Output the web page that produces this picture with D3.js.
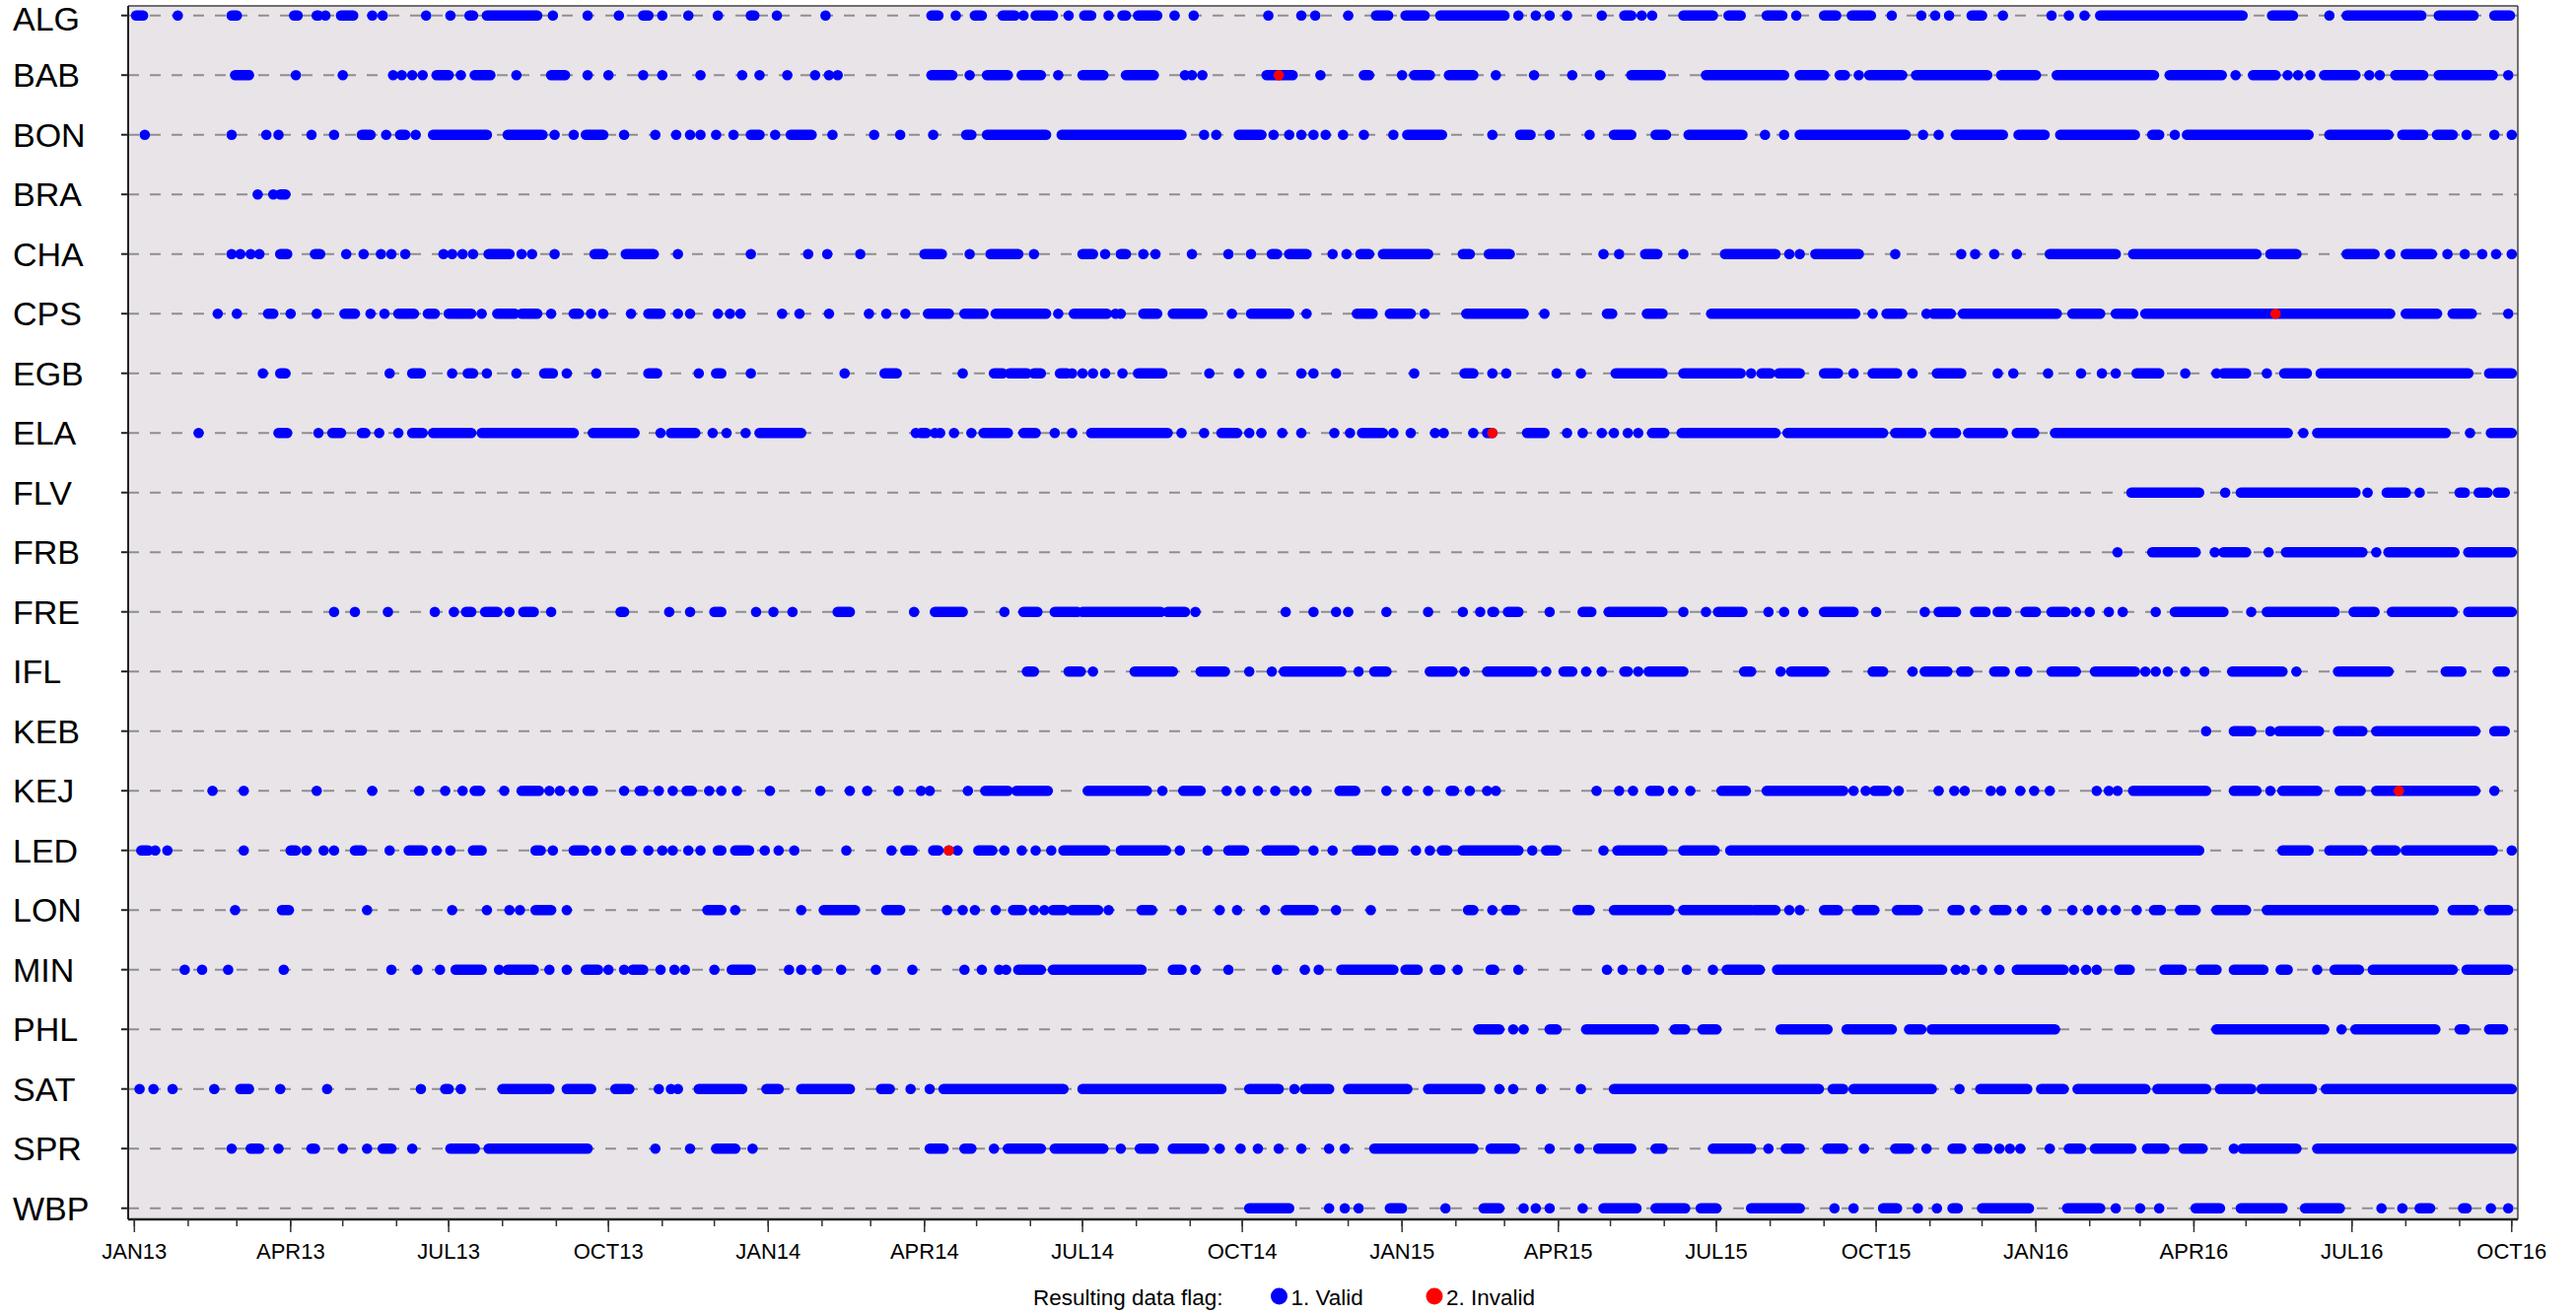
<!DOCTYPE html>
<html><head><meta charset="utf-8">
<script src="https://cdn.jsdelivr.net/npm/d3@7"></script>
<style>
body{margin:0;background:#fff}
svg{display:block}
text{font-family:"Liberation Sans",Arial,Helvetica,sans-serif}
</style>
</head><body>
<svg id="chart" width="2613" height="1333"></svg>
<script>
// Categories (stations, top to bottom)
const stations = ["ALG","BAB","BON","BRA","CHA","CPS","EGB","ELA","FLV","FRB","FRE","IFL","KEB","KEJ","LED","LON","MIN","PHL","SAT","SPR","WBP"];
// Quarterly tick labels
const tickLabels = ["JAN13","APR13","JUL13","OCT13","JAN14","APR14","JUL14","OCT14","JAN15","APR15","JUL15","OCT15","JAN16","APR16","JUL16","OCT16"];
const legendTitle = "Resulting data flag:";
const legendLabels = ["1. Valid","2. Invalid"];

// Valid data: runs of consecutive days [firstDay, lastDay], days counted from 1 Jan 2013
const ALG = [[1,5],[25,25],[56,59],[92,94],[105,106],[110,110],[119,126],[137,137],[143,143],[168,168],[182,182],[193,195],[203,232],[241,241],[261,261],[279,279],[293,296],[304,304],[319,319],[336,336],[355,357],[370,370],[398,398],[459,463],[473,473],[484,488],[500,507],[512,512],[519,529],[538,538],[547,551],[561,561],[569,571],[578,589],[599,599],[610,610],[653,653],[672,672],[680,680],[699,699],[715,722],[732,743],[752,789],[797,797],[807,807],[815,815],[825,825],[845,845],[858,862],[868,868],[874,874],[892,909],[918,925],[940,949],[957,957],[973,980],[989,1000],[1012,1012],[1029,1029],[1037,1037],[1045,1045],[1058,1064],[1076,1076],[1104,1104],[1114,1114],[1123,1123],[1132,1214],[1231,1243],[1264,1264],[1274,1317],[1327,1347],[1359,1368]];
const BAB = [[58,66],[93,93],[120,120],[149,149],[154,154],[160,160],[166,166],[174,181],[188,188],[196,205],[220,220],[240,248],[261,261],[273,273],[293,293],[304,304],[326,326],[350,350],[360,360],[376,376],[392,392],[400,400],[405,405],[459,471],[481,481],[491,503],[511,522],[532,532],[546,558],[571,587],[605,605],[609,609],[615,615],[652,667],[683,683],[708,711],[730,730],[737,746],[757,771],[784,784],[806,806],[828,828],[844,844],[862,879],[905,950],[959,973],[982,985],[993,993],[999,1018],[1026,1067],[1075,1095],[1107,1163],[1172,1202],[1210,1210],[1220,1233],[1240,1240],[1246,1246],[1253,1253],[1261,1279],[1287,1287],[1293,1293],[1302,1318],[1327,1358],[1367,1367]];
const BON = [[6,6],[56,56],[76,76],[83,83],[102,102],[115,115],[131,136],[145,145],[153,156],[162,162],[172,203],[215,235],[242,242],[253,253],[260,270],[282,282],[300,300],[312,312],[320,320],[326,326],[335,335],[345,345],[355,360],[369,369],[378,390],[402,402],[426,426],[441,441],[460,460],[479,482],[491,525],[534,603],[616,616],[623,623],[636,649],[656,656],[665,665],[672,672],[679,679],[686,686],[696,696],[708,708],[725,725],[733,753],[782,782],[798,804],[815,815],[838,838],[852,862],[876,882],[895,926],[939,939],[950,950],[959,1020],[1030,1030],[1039,1039],[1049,1076],[1085,1100],[1109,1152],[1162,1166],[1175,1175],[1182,1252],[1264,1298],[1306,1318],[1326,1335],[1343,1343],[1359,1359],[1369,1369]];
const BRA = [[71,71],[80,80],[84,87]];
const CHA = [[56,56],[61,61],[67,67],[72,72],[84,88],[104,107],[122,122],[132,132],[142,142],[148,148],[156,156],[178,178],[183,183],[189,189],[195,195],[204,216],[223,223],[229,229],[242,242],[265,270],[283,299],[313,313],[355,355],[388,388],[399,399],[418,418],[455,465],[481,481],[493,509],[518,518],[546,552],[559,559],[568,571],[581,581],[588,588],[609,609],[630,630],[643,643],[655,658],[665,675],[690,690],[698,698],[706,711],[719,745],[765,769],[780,792],[846,846],[855,855],[870,877],[892,892],[916,945],[953,953],[959,959],[968,993],[1014,1014],[1052,1052],[1060,1060],[1071,1071],[1084,1084],[1103,1141],[1151,1222],[1230,1245],[1274,1290],[1299,1299],[1308,1323],[1332,1332],[1342,1342],[1352,1352],[1360,1360],[1369,1369]];
const CPS = [[48,48],[59,59],[77,80],[90,90],[105,105],[121,127],[136,136],[144,144],[152,161],[169,173],[181,194],[200,200],[209,219],[223,232],[240,240],[253,256],[263,263],[270,270],[286,286],[296,303],[313,313],[320,320],[336,336],[343,343],[349,349],[373,373],[383,383],[400,400],[423,423],[433,433],[444,444],[457,469],[478,489],[496,525],[532,532],[541,560],[565,565],[568,568],[581,589],[598,615],[632,632],[643,665],[675,675],[704,713],[723,735],[743,743],[767,800],[812,812],[848,851],[871,880],[908,991],[1001,1001],[1009,1018],[1032,1032],[1036,1046],[1053,1107],[1116,1132],[1141,1151],[1158,1299],[1308,1326],[1335,1346],[1367,1367]];
const EGB = [[74,74],[84,87],[147,147],[160,165],[183,183],[192,195],[203,203],[220,220],[236,241],[249,249],[266,266],[296,301],[325,325],[335,338],[355,355],[409,409],[432,439],[477,477],[495,500],[504,514],[518,522],[533,537],[540,540],[546,546],[552,552],[559,559],[569,569],[578,592],[619,619],[636,636],[649,649],[672,672],[679,679],[692,692],[737,737],[766,771],[782,782],[790,790],[819,819],[833,833],[853,880],[892,925],[931,931],[937,942],[947,959],[973,981],[990,990],[1001,1015],[1024,1024],[1038,1052],[1073,1073],[1082,1082],[1102,1102],[1121,1121],[1133,1133],[1141,1141],[1153,1166],[1181,1181],[1199,1199],[1203,1216],[1228,1228],[1238,1251],[1259,1344],[1356,1369]];
const ELA = [[37,37],[83,88],[106,106],[114,119],[131,133],[141,141],[152,152],[160,166],[172,194],[200,253],[264,288],[303,303],[309,323],[333,333],[341,341],[352,352],[360,384],[450,450],[453,456],[461,461],[464,464],[472,472],[482,482],[489,503],[512,519],[530,530],[540,540],[551,595],[603,603],[616,616],[626,635],[642,642],[649,649],[661,661],[672,672],[691,691],[700,700],[707,719],[725,725],[735,735],[749,749],[754,754],[771,771],[779,782],[802,812],[825,825],[834,834],[845,845],[852,852],[860,860],[866,866],[874,881],[891,945],[952,1007],[1014,1029],[1037,1049],[1056,1076],[1084,1094],[1106,1240],[1249,1249],[1257,1331],[1345,1345],[1357,1369]];
const FLV = [[1150,1189],[1204,1204],[1213,1279],[1286,1286],[1297,1308],[1316,1316],[1339,1342],[1350,1355],[1361,1365]];
const FRB = [[1142,1142],[1162,1187],[1198,1198],[1203,1216],[1229,1229],[1239,1283],[1291,1291],[1298,1336],[1344,1369]];
const FRE = [[115,115],[127,127],[146,146],[173,173],[184,184],[191,194],[202,209],[216,216],[224,230],[240,240],[280,282],[308,308],[320,320],[334,338],[358,358],[368,368],[379,379],[405,412],[449,449],[461,477],[501,501],[512,520],[530,543],[546,591],[595,605],[611,611],[663,663],[679,679],[692,692],[699,699],[721,721],[745,745],[765,765],[775,775],[782,783],[791,797],[815,815],[834,839],[849,880],[892,892],[905,905],[912,926],[941,941],[950,950],[961,961],[973,990],[1003,1003],[1031,1031],[1039,1049],[1060,1066],[1073,1078],[1089,1095],[1104,1112],[1118,1118],[1126,1126],[1137,1137],[1145,1145],[1164,1164],[1175,1203],[1219,1219],[1228,1267],[1278,1290],[1300,1335],[1344,1369]];
const IFL = [[514,518],[538,545],[552,552],[576,598],[614,628],[642,642],[655,655],[662,695],[705,705],[714,721],[746,759],[766,766],[779,805],[813,813],[823,828],[836,836],[845,845],[858,860],[866,866],[872,892],[927,931],[948,948],[954,973],[1001,1007],[1024,1024],[1031,1044],[1052,1056],[1071,1077],[1086,1090],[1104,1118],[1129,1152],[1158,1158],[1164,1164],[1171,1171],[1181,1181],[1192,1192],[1208,1237],[1245,1245],[1269,1298],[1331,1340],[1361,1365]];
const KEB = [[1193,1193],[1209,1219],[1230,1230],[1235,1258],[1269,1283],[1291,1348],[1359,1365]];
const KEJ = [[45,45],[63,63],[105,105],[137,137],[164,164],[179,179],[189,189],[196,199],[213,213],[223,233],[239,239],[245,245],[253,253],[261,264],[282,282],[291,293],[302,302],[310,310],[318,321],[331,331],[338,338],[347,347],[366,366],[395,395],[412,412],[422,422],[440,440],[453,453],[458,458],[480,480],[490,503],[508,526],[549,583],[592,592],[604,614],[629,629],[637,637],[647,647],[657,657],[668,668],[675,675],[694,703],[721,721],[733,733],[745,745],[758,760],[769,769],[779,779],[784,784],[842,842],[855,855],[863,863],[873,878],[886,886],[896,896],[914,928],[940,984],[990,990],[997,997],[1002,1009],[1016,1016],[1039,1039],[1048,1048],[1054,1054],[1069,1069],[1075,1075],[1086,1086],[1094,1094],[1103,1103],[1130,1130],[1137,1137],[1142,1142],[1151,1193],[1209,1222],[1230,1230],[1237,1257],[1270,1282],[1291,1348],[1359,1359]];
const LED = [[4,8],[12,12],[19,19],[63,63],[90,93],[99,99],[109,109],[115,115],[127,131],[147,147],[158,166],[174,174],[182,182],[195,200],[231,234],[241,241],[253,259],[266,266],[274,274],[283,286],[296,296],[304,304],[310,310],[319,319],[326,326],[336,338],[346,354],[363,363],[371,371],[380,380],[410,410],[436,436],[444,448],[460,463],[469,469],[474,474],[486,494],[501,501],[511,511],[519,519],[528,528],[535,559],[568,594],[602,602],[618,618],[630,639],[652,668],[679,679],[690,690],[704,712],[719,725],[738,738],[746,746],[753,756],[765,797],[805,805],[813,819],[846,846],[854,880],[892,910],[919,1189],[1237,1252],[1264,1283],[1291,1302],[1308,1358],[1369,1369]];
const LON = [[58,58],[85,89],[134,134],[183,183],[203,203],[216,216],[222,222],[231,240],[249,249],[330,338],[346,346],[384,384],[397,415],[433,441],[468,468],[477,477],[484,484],[496,496],[506,511],[518,518],[524,524],[529,535],[540,555],[561,561],[580,586],[603,603],[625,625],[635,635],[651,651],[663,679],[692,692],[712,712],[768,771],[782,782],[790,795],[831,838],[852,884],[892,931],[933,945],[953,953],[959,959],[973,981],[992,1002],[1015,1027],[1047,1051],[1060,1060],[1071,1078],[1087,1087],[1101,1101],[1116,1116],[1125,1125],[1133,1133],[1141,1141],[1153,1153],[1163,1167],[1178,1187],[1199,1216],[1228,1324],[1335,1347],[1356,1367]];
const MIN = [[29,29],[39,39],[54,54],[86,86],[148,148],[163,163],[176,176],[185,200],[210,210],[215,230],[239,239],[249,249],[260,267],[273,273],[282,282],[287,293],[303,303],[311,311],[317,317],[334,334],[344,355],[377,377],[384,384],[393,393],[407,407],[427,427],[448,448],[478,478],[488,488],[498,498],[502,502],[509,522],[529,580],[598,603],[611,611],[630,630],[658,658],[674,674],[682,682],[695,725],[732,739],[749,752],[762,762],[781,783],[797,797],[848,848],[857,857],[868,868],[878,878],[894,894],[909,909],[917,936],[946,1041],[1049,1049],[1054,1054],[1064,1064],[1074,1074],[1084,1111],[1117,1117],[1124,1124],[1130,1130],[1143,1149],[1169,1179],[1190,1199],[1209,1226],[1236,1240],[1257,1257],[1267,1281],[1289,1335],[1343,1367]];
const PHL = [[774,786],[794,794],[800,800],[815,819],[836,875],[887,893],[903,911],[948,975],[986,1012],[1022,1029],[1035,1106],[1199,1261],[1271,1271],[1279,1325],[1339,1342],[1356,1364]];
const SAT = [[3,3],[11,11],[22,22],[46,46],[61,66],[84,84],[111,111],[165,165],[179,181],[188,188],[212,239],[249,263],[277,285],[302,302],[309,309],[313,313],[325,350],[364,371],[384,412],[430,435],[447,447],[458,458],[466,535],[546,626],[642,659],[668,668],[674,688],[699,733],[745,775],[786,786],[794,794],[810,810],[833,833],[852,970],[978,984],[990,1035],[1051,1051],[1063,1090],[1098,1111],[1119,1158],[1165,1193],[1201,1219],[1225,1254],[1262,1369]];
const SPR = [[56,56],[67,72],[83,83],[102,104],[120,120],[134,134],[143,148],[160,160],[182,196],[204,261],[300,300],[320,320],[335,346],[356,356],[458,466],[478,482],[495,495],[503,522],[530,558],[568,568],[579,587],[598,616],[625,625],[637,637],[647,647],[659,659],[672,672],[688,688],[697,697],[714,771],[781,795],[815,815],[832,832],[843,862],[876,880],[909,931],[941,941],[951,959],[975,984],[996,996],[1014,1022],[1032,1032],[1047,1052],[1062,1067],[1074,1074],[1080,1080],[1086,1086],[1103,1103],[1114,1121],[1129,1150],[1159,1169],[1180,1191],[1209,1209],[1214,1245],[1257,1369]];
const WBP = [[642,665],[688,688],[697,697],[705,705],[723,730],[755,755],[777,786],[800,800],[807,807],[815,815],[834,834],[846,865],[876,893],[902,911],[931,959],[979,979],[990,990],[1007,1015],[1027,1027],[1038,1038],[1047,1050],[1064,1091],[1113,1132],[1141,1141],[1155,1155],[1166,1166],[1187,1201],[1213,1237],[1250,1270],[1294,1294],[1306,1306],[1316,1322],[1341,1343],[1357,1357],[1367,1367]];

// Invalid data points: [station, day since 1 Jan 2013]
const invalid = [["LED",469],["BAB",659],["ELA",782],["CPS",1233],["KEJ",1304]];

const validRuns = {ALG,BAB,BON,BRA,CHA,CPS,EGB,ELA,FLV,FRB,FRE,IFL,KEB,KEJ,LED,LON,MIN,PHL,SAT,SPR,WBP};

// ---------- drawing ----------
const plot = {left:130, right:2554, top:6, bottom:1237};
const origin = new Date(Date.UTC(2013,0,1));
const endDate = new Date(Date.UTC(2016,9,1));
const day = d => d3.utcDay.offset(origin, d);
const R = 5.3;
const BLUE = "#0000ff", RED = "#ff0000";
const LABEL_SIZE = 34;

const svg = d3.select("#chart");

const x = d3.scaleUtc().domain([origin, endDate]).range([136.3, 2547.8]);
const y = d3.scalePoint().domain(stations).range([15.7, 1225.7]);

// plot background
svg.append("rect")
  .attr("x", plot.left).attr("y", plot.top)
  .attr("width", plot.right - plot.left).attr("height", plot.bottom - plot.top)
  .attr("fill", "#e8e4e8");

// dashed reference lines per station
svg.append("g").selectAll("line").data(stations).join("line")
  .attr("x1", plot.left).attr("x2", plot.right)
  .attr("y1", d => y(d)).attr("y2", d => y(d))
  .attr("stroke", "#8e8e8e").attr("stroke-width", 2)
  .attr("stroke-dasharray", "11,11");

// valid data (blue): runs of consecutive days
const gValid = svg.append("g");
stations.forEach(s => {
  gValid.selectAll(null).data(validRuns[s]).join("rect")
    .attr("x", d => x(day(d[0])) - R)
    .attr("width", d => x(day(d[1])) - x(day(d[0])) + 2*R)
    .attr("y", y(s) - R).attr("height", 2*R)
    .attr("rx", R).attr("ry", R)
    .attr("fill", BLUE);
});

// invalid data (red)
svg.append("g").selectAll("circle").data(invalid).join("circle")
  .attr("cx", d => x(day(d[1])))
  .attr("cy", d => y(d[0]))
  .attr("r", R)
  .attr("fill", RED);

// frame: top and right borders
svg.append("line").attr("x1", plot.left).attr("x2", plot.right).attr("y1", plot.top).attr("y2", plot.top)
  .attr("stroke", "#444").attr("stroke-width", 1.5);
svg.append("line").attr("x1", plot.right).attr("x2", plot.right).attr("y1", plot.top).attr("y2", plot.bottom)
  .attr("stroke", "#444").attr("stroke-width", 1.5);

// y axis
const yAxis = svg.append("g").attr("transform", `translate(${plot.left},0)`);
yAxis.append("line").attr("x1", 0).attr("x2", 0).attr("y1", plot.top).attr("y2", plot.bottom)
  .attr("stroke", "#222").attr("stroke-width", 2);
yAxis.selectAll("line.tk").data(stations).join("line").attr("class", "tk")
  .attr("x1", -7).attr("x2", 0).attr("y1", d => y(d)).attr("y2", d => y(d))
  .attr("stroke", "#222").attr("stroke-width", 2);
// station labels (kept inside the page: top label nudged so it is not clipped)
const minLabelY = LABEL_SIZE * (0.905 - 0.36) + 0.5;
svg.append("g").selectAll("text").data(stations).join("text")
  .attr("x", 13).attr("y", d => Math.max(y(d), minLabelY)).attr("dy", "0.36em")
  .attr("font-size", LABEL_SIZE).attr("fill", "#000")
  .text(d => d);

// x axis
const majors = d3.utcMonth.every(3).range(origin, d3.utcDay.offset(endDate, 1));
const minors = d3.utcMonth.range(origin, d3.utcDay.offset(endDate, 1));
const xAxis = svg.append("g");
xAxis.append("line").attr("x1", plot.left).attr("x2", plot.right).attr("y1", plot.bottom).attr("y2", plot.bottom)
  .attr("stroke", "#222").attr("stroke-width", 2.5);
xAxis.selectAll("line.minor").data(minors).join("line").attr("class", "minor")
  .attr("x1", d => x(d)).attr("x2", d => x(d))
  .attr("y1", plot.bottom).attr("y2", plot.bottom + 7)
  .attr("stroke", "#333").attr("stroke-width", 1.5);
xAxis.selectAll("line.major").data(majors).join("line").attr("class", "major")
  .attr("x1", d => x(d)).attr("x2", d => x(d))
  .attr("y1", plot.bottom).attr("y2", plot.bottom + 13)
  .attr("stroke", "#333").attr("stroke-width", 1.5);
xAxis.selectAll("text").data(majors).join("text")
  .attr("x", d => x(d)).attr("y", 1277)
  .attr("text-anchor", "middle").attr("font-size", 22).attr("fill", "#000")
  .text((d, i) => tickLabels[i]);

// legend
const lg = svg.append("g").attr("font-size", 22.5).attr("fill", "#000");
lg.append("text").attr("x", 1048).attr("y", 1324).text(legendTitle);
const legendItems = [{label: legendLabels[0], color: BLUE, cx: 1297.5}, {label: legendLabels[1], color: RED, cx: 1455}];
lg.selectAll("circle").data(legendItems).join("circle")
  .attr("cx", d => d.cx).attr("cy", 1315).attr("r", 8.5).attr("fill", d => d.color);
lg.selectAll("text.item").data(legendItems).join("text").attr("class", "item")
  .attr("x", d => d.cx + 12).attr("y", 1324).text(d => d.label);
</script>
</body></html>
